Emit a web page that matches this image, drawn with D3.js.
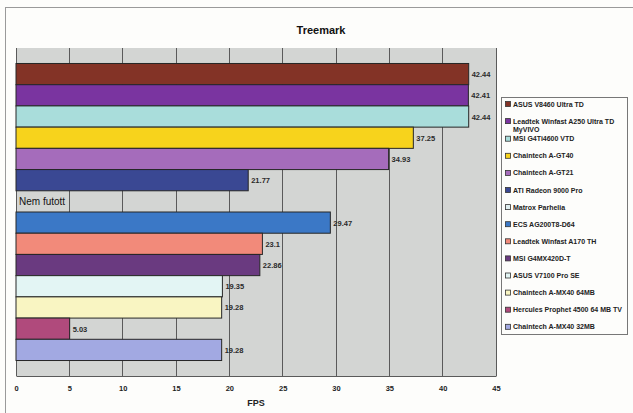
<!DOCTYPE html>
<html><head><meta charset="utf-8">
<script src="https://cdn.jsdelivr.net/npm/d3@7"></script>
<style>body{margin:0;background:#fdfdfb;}svg{display:block;font-family:"Liberation Sans",Arial,sans-serif;}</style>
</head><body>
<svg id="c" width="633" height="413"></svg>
<script>
const categories = ["ASUS V8460 Ultra TD","Leadtek Winfast A250 Ultra TD MyVIVO","MSI G4Ti4600 VTD","Chaintech A-GT40","Chaintech A-GT21","ATI Radeon 9000 Pro","Matrox Parhelia","ECS AG200T8-D64","Leadtek Winfast A170 TH","MSI G4MX420D-T","ASUS V7100 Pro SE","Chaintech A-MX40 64MB","Hercules Prophet 4500 64 MB TV","Chaintech A-MX40 32MB"];
const values = [42.44,42.41,42.44,37.25,34.93,21.77,null,29.47,23.1,22.86,19.35,19.28,5.03,19.28];
const valueLabels = ["42.44","42.41","42.44","37.25","34.93","21.77","","29.47","23.1","22.86","19.35","19.28","5.03","19.28"];
const colors = ["#833326","#7a34a0","#a9dddb","#f7d31c","#a56cbb","#3a4893","#dfeef0","#3b78c6","#f28a7a","#6a3a80","#e3f5f4","#f9f5c2","#b04a7c","#a2a9e2"];
const ticks = [0,5,10,15,20,25,30,35,40,45];
const missingText = "Nem futott";
const title = "Treemark";
const xTitle = "FPS";

const svg = d3.select("#c");
// chart border
svg.append("rect").attr("x",5.5).attr("y",7.5).attr("width",700).attr("height",500)
  .attr("fill","none").attr("stroke","#9a9a9a");

const L=16,R=496,T=48,B=376;
const x = d3.scaleLinear().domain([0,45]).range([L,R]);
const y = d3.scaleBand().domain(categories).range([T,B]).paddingInner(0).paddingOuter(0.73);

svg.append("rect").attr("x",L).attr("y",T).attr("width",R-L).attr("height",B-T).attr("fill","#d3d5d3");
svg.append("g").selectAll("line").data(ticks).join("line")
  .attr("x1",d=>x(d)).attr("x2",d=>x(d)).attr("y1",T).attr("y2",B)
  .attr("stroke","#5a5a5a").attr("stroke-width",1).attr("shape-rendering","crispEdges");

svg.append("g").selectAll("rect").data(categories.map((c,i)=>({c,v:values[i],i}))).join("rect")
  .filter(d=>d.v!==null)
  .attr("x",x(0)).attr("y",d=>y(d.c)).attr("width",d=>x(d.v)-x(0)).attr("height",y.bandwidth())
  .attr("fill",d=>colors[d.i]).attr("stroke","#262626").attr("stroke-width",1);

svg.append("g").selectAll("text").data(categories.map((c,i)=>({c,v:values[i],i}))).join("text")
  .filter(d=>d.v!==null)
  .attr("x",d=>x(d.v)+3).attr("y",d=>y(d.c)+y.bandwidth()/2+3)
  .attr("font-size",7.5).attr("font-weight","bold").attr("fill","#2a2a2a")
  .text(d=>valueLabels[d.i]);

const mi = values.indexOf(null);
svg.append("text").attr("x",19).attr("y",y(categories[mi])+y.bandwidth()/2+4)
  .attr("font-size",10).attr("fill","#111").text(missingText);

// axis
const ax = svg.append("g").attr("transform",`translate(0,${B})`)
  .call(d3.axisBottom(x).tickValues(ticks).tickSize(0).tickPadding(10).tickFormat(d3.format("d")));
ax.select(".domain").attr("stroke","#5a5a5a");
ax.selectAll("text").attr("font-size",7.5).attr("font-weight","bold").attr("fill","#222").attr("font-family","Liberation Sans, Arial, sans-serif");

svg.append("text").attr("x",(L+R)/2).attr("y",406).attr("text-anchor","middle")
  .attr("font-size",9).attr("font-weight","bold").attr("fill","#222").text(xTitle);
svg.append("text").attr("x",321).attr("y",34).attr("text-anchor","middle")
  .attr("font-size",11).attr("font-weight","bold").attr("fill","#111").text(title);

// legend
const lg = svg.append("g");
lg.append("rect").attr("x",501.5).attr("y",97.5).attr("width",126).attr("height",237)
  .attr("fill","#fdfdfb").attr("stroke","#777");
const ly0=104, step=17.1;
categories.forEach((c,i)=>{
  const yy = ly0 + i*step + (i>=2?0.5:0);
  lg.append("rect").attr("x",505.5).attr("y",yy-2.5).attr("width",5).attr("height",5)
    .attr("fill",colors[i]).attr("stroke","#333").attr("stroke-width",0.8);
  const t = lg.append("text").attr("x",513).attr("y",yy+2.5).attr("font-size",7).attr("font-weight","bold").attr("fill","#222");
  if(c==="Leadtek Winfast A250 Ultra TD MyVIVO"){
    t.append("tspan").text("Leadtek Winfast A250 Ultra TD");
    t.append("tspan").attr("x",513).attr("dy",8.5).text("MyVIVO");
  } else t.text(c);
});
</script>
</body></html>
